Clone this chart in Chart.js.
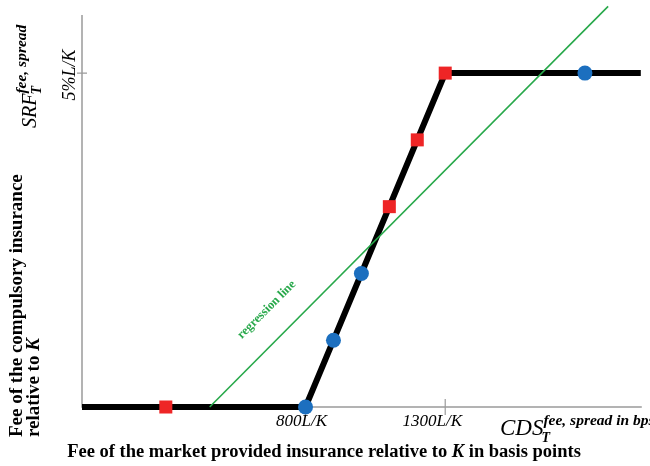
<!DOCTYPE html>
<html>
<head>
<meta charset="utf-8">
<script src="https://cdn.jsdelivr.net/npm/chart.js@4/dist/chart.umd.min.js"></script>
<style>
  html, body { margin: 0; padding: 0; background: #fff; }
  canvas { display: block; }
</style>
</head>
<body>
<canvas id="chart" width="650" height="466"></canvas>
<script>
// Piecewise fee schedule of the compulsory insurance (x: market fee in bps, y: fee in %L/K)
const feeX = [0, 800, 1300, 2000];
const feeY = [0, 0, 5, 5];

// Observations marked with squares
const squareX = [300, 1100, 1200, 1300];
const squareY = [0, 3, 4, 5];

// Observations marked with circles
const circleX = [800, 900, 1000, 1800];
const circleY = [0, 1, 2, 5];

// Fitted regression line end points
const regressionX = [457, 1883];
const regressionY = [0, 6];

// Axis ticks and their labels
const xTicks = [800, 1300];
const xTickLabels = ['800L/K', '1300L/K'];
const yTicks = [5];
const yTickLabels = ['5%L/K'];

const toPoints = (xs, ys) => xs.map((x, i) => ({ x: x, y: ys[i] }));

const AXIS_GREY = '#9b9b9b';
const SERIF = '"Liberation Serif", "Times New Roman", serif';

// Draws a run of text pieces (with sub/superscripts) along a rotated baseline.
function drawRich(ctx, x, y, angle, parts, align) {
  ctx.save();
  ctx.translate(x, y);
  ctx.rotate(angle);
  ctx.textBaseline = 'alphabetic';
  ctx.textAlign = 'left';
  let total = 0;
  for (const p of parts) {
    ctx.font = p.font;
    if (!p.stay) total += ctx.measureText(p.text).width + (p.dx || 0);
  }
  let pen = align === 'center' ? -total / 2 : (align === 'right' ? -total : 0);
  for (const p of parts) {
    ctx.font = p.font;
    ctx.fillStyle = p.color || '#000';
    ctx.fillText(p.text, pen + (p.dx || 0), p.dy || 0);
    if (!p.stay) pen += ctx.measureText(p.text).width + (p.dx || 0);
  }
  ctx.restore();
}

const axesPlugin = {
  id: 'axesPlugin',
  beforeDatasetsDraw(chart) {
    const { ctx, chartArea: a, scales: { x, y } } = chart;
    ctx.save();
    ctx.strokeStyle = AXIS_GREY;
    ctx.lineWidth = 1.5;
    ctx.beginPath();
    ctx.moveTo(a.left, a.top);
    ctx.lineTo(a.left, a.bottom);
    ctx.lineTo(a.right + 1, a.bottom);
    ctx.stroke();
    // tick marks crossing the axes
    ctx.lineWidth = 1.2;
    ctx.beginPath();
    xTicks.forEach(v => {
      const px = x.getPixelForValue(v);
      ctx.moveTo(px, a.bottom - 8);
      ctx.lineTo(px, a.bottom + 8);
    });
    yTicks.forEach(v => {
      const py = y.getPixelForValue(v);
      ctx.moveTo(a.left - 5, py);
      ctx.lineTo(a.left + 5, py);
    });
    ctx.stroke();
    ctx.restore();
  },
  afterDraw(chart) {
    const { ctx, chartArea: a, scales: { x, y } } = chart;
    const up = -Math.PI / 2;

    // tick labels
    const xNudge = [-4, -13];
    xTicks.forEach((v, i) => {
      drawRich(ctx, x.getPixelForValue(v) + xNudge[i], a.bottom + 19, 0,
        [{ text: xTickLabels[i], font: 'italic 17px ' + SERIF }], 'center');
    });
    yTicks.forEach((v, i) => {
      drawRich(ctx, a.left - 7, y.getPixelForValue(v) + 2, up,
        [{ text: yTickLabels[i], font: 'italic 18px ' + SERIF }], 'center');
    });

    // axis symbols
    drawRich(ctx, 500, a.bottom + 28, 0, [
      { text: 'CDS', font: 'italic 23px ' + SERIF },
      { text: 'T', font: 'bold italic 14px ' + SERIF, dy: 7, dx: -2, stay: true },
      { text: 'fee, spread in bps', font: 'bold italic 15.5px ' + SERIF, dy: -10, dx: 0 }
    ]);
    drawRich(ctx, 36, 128, up, [
      { text: 'SRF', font: 'italic 20px ' + SERIF },
      { text: 'T', font: 'bold italic 14px ' + SERIF, dy: 5, dx: -1, stay: true },
      { text: 'fee, spread', font: 'bold italic 15.5px ' + SERIF, dy: -10, dx: 0 }
    ]);

    // axis titles
    drawRich(ctx, 324, 457, 0, [
      { text: 'Fee of the market provided insurance relative to ', font: 'bold 18.5px ' + SERIF },
      { text: 'K', font: 'bold italic 18.5px ' + SERIF },
      { text: ' in basis points', font: 'bold 18.5px ' + SERIF }
    ], 'center');
    drawRich(ctx, 22, 437, up, [
      { text: 'Fee of the compulsory insurance', font: 'bold 19px ' + SERIF }
    ]);
    drawRich(ctx, 39, 437, up, [
      { text: 'relative to ', font: 'bold 19px ' + SERIF },
      { text: 'K', font: 'bold italic 19px ' + SERIF }
    ]);

    // regression label along the fitted line
    drawRich(ctx, 269, 312, -Math.PI / 4, [
      { text: 'regression line', font: 'bold 12.5px ' + SERIF, color: '#27a84a' }
    ], 'center');
  }
};

new Chart(document.getElementById('chart'), {
  type: 'scatter',
  data: {
    datasets: [
      {
        label: 'squares',
        data: toPoints(squareX, squareY),
        pointStyle: 'rect',
        pointRadius: 9.2,
        pointBackgroundColor: '#ee2526',
        pointBorderWidth: 0,
        showLine: false,
        clip: false,
        order: 0
      },
      {
        label: 'circles',
        data: toPoints(circleX, circleY),
        pointStyle: 'circle',
        pointRadius: 7.5,
        pointBackgroundColor: '#1c6fbf',
        pointBorderWidth: 0,
        showLine: false,
        clip: false,
        order: 0
      },
      {
        label: 'regression line',
        data: toPoints(regressionX, regressionY),
        showLine: true,
        borderColor: '#27a84a',
        borderWidth: 1.6,
        pointRadius: 0,
        clip: false,
        order: 1
      },
      {
        label: 'fee schedule',
        data: toPoints(feeX, feeY),
        showLine: true,
        borderColor: '#000',
        borderWidth: 6,
        borderJoinStyle: 'miter',
        pointRadius: 0,
        clip: false,
        order: 2
      }
    ]
  },
  options: {
    responsive: false,
    animation: false,
    devicePixelRatio: 1,
    layout: { padding: { left: 82, right: 8, top: 15, bottom: 59 } },
    plugins: { legend: { display: false }, tooltip: { enabled: false } },
    scales: {
      x: { type: 'linear', display: false, min: 0, max: 2000 },
      y: { type: 'linear', display: false, min: 0, max: 5.87 }
    }
  },
  plugins: [axesPlugin]
});
</script>
</body>
</html>
